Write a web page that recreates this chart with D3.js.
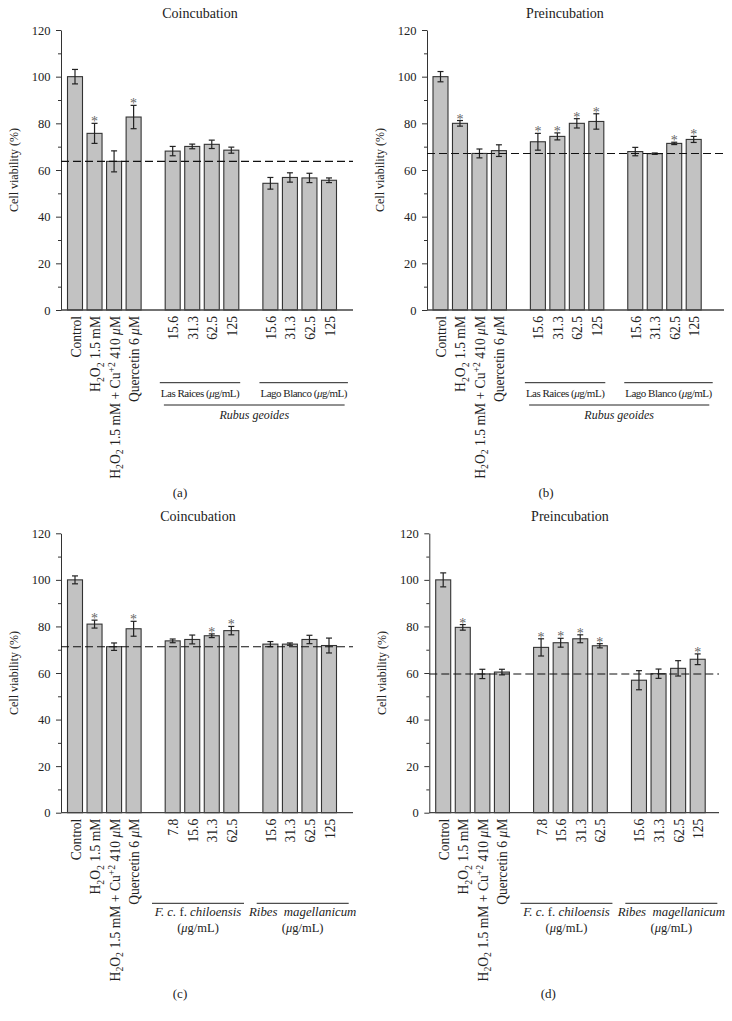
<!DOCTYPE html>
<html>
<head>
<meta charset="utf-8">
<script src="https://cdn.jsdelivr.net/npm/d3@7"></script>
<style>
  body { margin: 0; background: #fff; }
  text { font-family: "Liberation Serif", "DejaVu Serif", serif; fill: #222; }
</style>
</head>
<body>
<svg id="chart" width="732" height="1021"></svg>
<script>
// category labels ("_" = subscript char, "^{..}" = superscript, "|" toggles italic)
var treatments = ["Control", "H_2O_2 1.5 mM", "H_2O_2 1.5 mM + Cu^{+2} 410 μM", "Quercetin 6 μM"];
var rubusConc = ["15.6", "31.3", "62.5", "125"];
var fragariaConc = ["7.8", "15.6", "31.3", "62.5"];
var ribesConc = ["15.6", "31.3", "62.5", "125"];
var slots = [0, 1, 2, 3, 5, 6, 7, 8, 10, 11, 12, 13];
var yTicks = [0, 20, 40, 60, 80, 100, 120];

// (a) Rubus geoides, coincubation
var coincRubus = [100, 75.7, 63.7, 82.7, 68.1, 70.1, 71.0, 68.5, 54.3, 56.8, 56.6, 55.6];
var coincRubusErr = [3.1, 4.3, 4.5, 5.0, 2.0, 1.0, 1.8, 1.3, 2.5, 2.0, 2.0, 1.0];
var coincRubusSig = [0, 1, 0, 1, 0, 0, 0, 0, 0, 0, 0, 0];

// (b) Rubus geoides, preincubation
var preRubus = [100, 80.0, 67.1, 68.3, 72.1, 74.4, 80.0, 80.8, 67.9, 67.0, 71.4, 73.1];
var preRubusErr = [2.2, 1.2, 1.9, 2.5, 3.6, 1.5, 2.0, 3.3, 1.8, 0.3, 0.5, 1.3];
var preRubusSig = [0, 1, 0, 0, 1, 1, 1, 1, 0, 0, 1, 1];

// (c) F. chiloensis / Ribes, coincubation
var coincFR = [100, 81.0, 71.3, 79.0, 73.8, 74.4, 76.0, 78.2, 72.4, 72.4, 74.4, 71.8];
var coincFRErr = [1.7, 1.7, 1.6, 3.2, 0.8, 1.9, 0.8, 1.8, 1.1, 0.5, 1.8, 3.2];
var coincFRSig = [0, 1, 0, 1, 0, 0, 1, 1, 0, 0, 0, 0];

// (d) F. chiloensis / Ribes, preincubation
var preFR = [100, 79.6, 59.6, 60.4, 71.0, 73.0, 74.7, 71.7, 56.9, 59.7, 62.0, 65.9];
var preFRErr = [3.0, 1.2, 2.0, 1.2, 3.7, 1.9, 1.7, 0.9, 4.1, 2.0, 3.3, 2.3];
var preFRSig = [0, 1, 0, 0, 1, 1, 1, 1, 0, 0, 0, 1];

var svg = d3.select("#chart");

// split a label string into styled pieces
function pieces(str) {
  var out = [], buf = "", italic = false, i = 0;
  function flush() { if (buf) out.push({t: buf, k: italic ? "it" : "n"}); buf = ""; }
  while (i < str.length) {
    var c = str[i];
    if (c === "_") { flush(); out.push({t: str[i + 1], k: "sub"}); i += 2; }
    else if (c === "^") { flush(); var j = str.indexOf("}", i); out.push({t: str.slice(i + 2, j), k: "sup"}); i = j + 1; }
    else if (c === "|") { flush(); italic = !italic; i++; }
    else if (c === "μ") { flush(); out.push({t: "μ", k: "it"}); i++; }
    else { buf += c; i++; }
  }
  flush();
  return out;
}

function richText(sel, str) {
  var shift = 0;
  pieces(str).forEach(function(p) {
    var target = p.k === "sub" ? 3.5 : (p.k === "sup" ? -4.5 : 0);
    var ts = sel.append("tspan").text(p.t).attr("dy", target - shift);
    if (p.k === "sub" || p.k === "sup") ts.attr("font-size", "0.72em");
    if (p.k === "it") ts.attr("font-style", "italic");
    shift = target;
  });
  return sel;
}

function drawPanel(cfg) {
  var g = svg.append("g");
  var x = d3.scaleLinear().domain([0, 13]).range([cfg.x0, cfg.x13]);
  var y = d3.scaleLinear().domain([0, 120]).range([cfg.bottom, cfg.top]);
  var barW = 15;

  // title
  g.append("text").attr("x", cfg.titleX).attr("y", cfg.top - 12)
    .attr("text-anchor", "middle").attr("font-size", 14).text(cfg.title);

  // y axis with minor ticks
  var yAxis = g.append("g").attr("transform", "translate(" + cfg.left + ",0)")
    .call(d3.axisLeft(y).tickValues(yTicks).tickSize(5).tickPadding(5.5).tickSizeOuter(0));
  g.append("g").attr("transform", "translate(" + cfg.left + ",0)")
    .call(d3.axisLeft(y).tickValues([10, 30, 50, 70, 90, 110]).tickSize(3).tickFormat("").tickSizeOuter(0))
    .select(".domain").remove();
  yAxis.selectAll("text").attr("font-size", 12.5).attr("fill", "#222");
  g.selectAll(".tick line").attr("stroke", "#333");
  yAxis.select(".domain").attr("stroke", "#333");

  g.append("text")
    .attr("transform", "translate(" + cfg.yLabelX + "," + ((cfg.top + cfg.bottom) / 2) + ") rotate(-90)")
    .attr("text-anchor", "middle").attr("font-size", 12).text("Cell viability (%)");

  // bars
  var rows = cfg.values.map(function(v, i) {
    return {v: v, e: cfg.errs[i], s: cfg.sig[i], pos: slots[i]};
  });
  g.selectAll(".bar").data(rows).enter().append("rect")
    .attr("x", function(d) { return x(d.pos) - barW / 2; })
    .attr("y", function(d) { return y(d.v); })
    .attr("width", barW)
    .attr("height", function(d) { return y(0) - y(d.v); })
    .attr("fill", "#c2c2c2").attr("stroke", "#333").attr("stroke-width", 1.1);

  // x axis line
  g.append("line").attr("x1", cfg.left).attr("x2", cfg.axisEnd)
    .attr("y1", y(0)).attr("y2", y(0)).attr("stroke", "#444").attr("stroke-width", 1.3);

  // error bars
  var eb = g.selectAll(".err").data(rows).enter().append("g").attr("stroke", "#222").attr("stroke-width", 1.2);
  eb.append("line").attr("x1", function(d) { return x(d.pos); }).attr("x2", function(d) { return x(d.pos); })
    .attr("y1", function(d) { return y(d.v - d.e); }).attr("y2", function(d) { return y(d.v + d.e); });
  eb.append("line").attr("x1", function(d) { return x(d.pos) - 3; }).attr("x2", function(d) { return x(d.pos) + 3; })
    .attr("y1", function(d) { return y(d.v + d.e); }).attr("y2", function(d) { return y(d.v + d.e); });
  eb.append("line").attr("x1", function(d) { return x(d.pos) - 3; }).attr("x2", function(d) { return x(d.pos) + 3; })
    .attr("y1", function(d) { return y(d.v - d.e); }).attr("y2", function(d) { return y(d.v - d.e); });

  // significance stars
  g.selectAll(".star").data(rows.filter(function(d) { return d.s; })).enter().append("text")
    .attr("x", function(d) { return x(d.pos); })
    .attr("y", function(d) { return y(d.v + d.e) + 3; })
    .attr("text-anchor", "middle").attr("font-size", 14).style("fill", "#666").text("*");

  // reference line at H2O2 + Cu level
  g.append("line").attr("x1", cfg.left).attr("x2", cfg.axisEnd)
    .attr("y1", y(cfg.values[2])).attr("y2", y(cfg.values[2]))
    .attr("stroke", "#111").attr("stroke-width", 1.1).attr("stroke-dasharray", "8,4");

  // rotated category labels
  var labels = treatments.concat(cfg.conc1, cfg.conc2);
  labels.forEach(function(lab, i) {
    var t = g.append("text")
      .attr("transform", "translate(" + (x(slots[i]) + 5.5) + "," + (y(0) + 6) + ") rotate(-90)")
      .attr("text-anchor", "end").attr("font-size", 13.6);
    richText(t, lab);
  });

  cfg.groups(g, x, y(0));

  g.append("text").attr("x", cfg.left + 119).attr("y", y(0) + cfg.letterDy)
    .attr("text-anchor", "middle").attr("font-size", 13).text(cfg.letter);
}

// group captions for the Rubus panels
function rubusGroups(g, x, base) {
  [["Las Raices (μg/mL)", 6.5, -2], ["Lago Blanco (μg/mL)", 11.5, 4]].forEach(function(p) {
    var cx = x(p[1]) + p[2];
    var t = g.append("text").attr("x", cx).attr("y", base + 87)
      .attr("text-anchor", "middle").attr("font-size", 11).attr("letter-spacing", -0.5);
    richText(t, p[0]);
    var w = t.node().getComputedTextLength() + 2;
    g.append("line").attr("x1", cx - w / 2).attr("x2", cx + w / 2)
      .attr("y1", base + 72.7).attr("y2", base + 72.7).attr("stroke", "#222");
  });
  g.append("line").attr("x1", x(4.55)).attr("x2", x(13.8))
    .attr("y1", base + 95).attr("y2", base + 95).attr("stroke", "#222");
  g.append("text").attr("x", (x(4.55) + x(13.8)) / 2).attr("y", base + 109)
    .attr("text-anchor", "middle").attr("font-size", 12).attr("font-style", "italic").text("Rubus geoides");
}

// group captions for the Fragaria / Ribes panels
function frGroups(g, x, base) {
  [["|F. c.| f. |chiloensis|", 6.5, -4], ["|Ribes\u2002magellanicum|", 11.5, 3]].forEach(function(p) {
    var cx = x(p[1]) + p[2];
    g.append("line").attr("x1", cx - 46).attr("x2", cx + 46)
      .attr("y1", base + 90.6).attr("y2", base + 90.6).attr("stroke", "#222");
    var t = g.append("text").attr("x", cx).attr("y", base + 103.5)
      .attr("text-anchor", "middle").attr("font-size", 12.8);
    richText(t, p[0]);
    var u = g.append("text").attr("x", cx).attr("y", base + 119.5)
      .attr("text-anchor", "middle").attr("font-size", 12.5);
    richText(u, "(μg/mL)");
  });
}

drawPanel({title: "Coincubation", titleX: 200, letter: "(a)", letterDy: 187,
  left: 61, top: 30, bottom: 310, x0: 75, x13: 329, axisEnd: 353, yLabelX: 18,
  values: coincRubus, errs: coincRubusErr, sig: coincRubusSig,
  conc1: rubusConc, conc2: rubusConc, groups: rubusGroups});

drawPanel({title: "Preincubation", titleX: 565, letter: "(b)", letterDy: 187,
  left: 427, top: 30, bottom: 310, x0: 440.5, x13: 693.7, axisEnd: 724, yLabelX: 384,
  values: preRubus, errs: preRubusErr, sig: preRubusSig,
  conc1: rubusConc, conc2: rubusConc, groups: rubusGroups});

drawPanel({title: "Coincubation", titleX: 198, letter: "(c)", letterDy: 185,
  left: 61, top: 533.3, bottom: 812.7, x0: 75, x13: 329, axisEnd: 353, yLabelX: 18,
  values: coincFR, errs: coincFRErr, sig: coincFRSig,
  conc1: fragariaConc, conc2: ribesConc, groups: frGroups});

drawPanel({title: "Preincubation", titleX: 570, letter: "(d)", letterDy: 185,
  left: 429.3, top: 533.3, bottom: 812.7, x0: 443.2, x13: 697.7, axisEnd: 719, yLabelX: 386,
  values: preFR, errs: preFRErr, sig: preFRSig,
  conc1: fragariaConc, conc2: ribesConc, groups: frGroups});
</script>
</body>
</html>
